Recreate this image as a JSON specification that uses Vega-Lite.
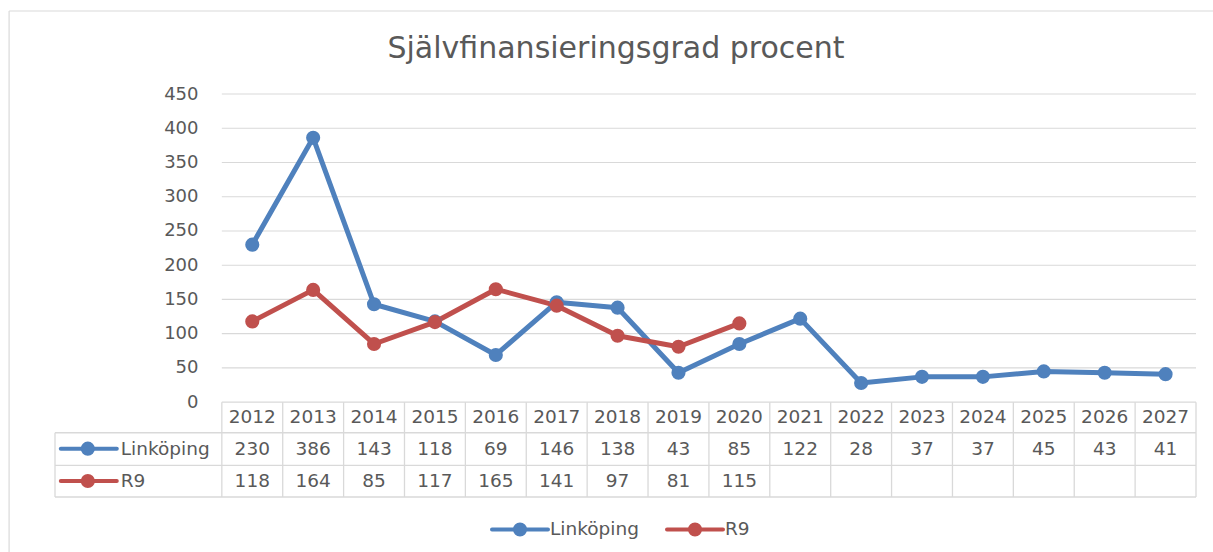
{
  "$schema": "https://vega.github.io/schema/vega-lite/v6.json",
  "width": 1141,
  "height": 403,
  "autosize": {"type": "none"},
  "padding": {"left": 55, "top": 94, "right": 17, "bottom": 55},
  "background": "white",
  "config": {"view": {"stroke": null}, "font": "DejaVu Sans"},
  "title": {"text": "Självfinansieringsgrad procent", "fontSize": 30, "font": "DejaVu Sans", "fontWeight": "normal", "color": "#595959", "anchor": "middle", "frame": "group", "offset": -77.6, "baseline": "alphabetic", "dx": -9.5},
  "datasets": {
    "vals": [
      {"year": 2012, "series": "Linköping", "value": 230},
      {"year": 2013, "series": "Linköping", "value": 386},
      {"year": 2014, "series": "Linköping", "value": 143},
      {"year": 2015, "series": "Linköping", "value": 118},
      {"year": 2016, "series": "Linköping", "value": 69},
      {"year": 2017, "series": "Linköping", "value": 146},
      {"year": 2018, "series": "Linköping", "value": 138},
      {"year": 2019, "series": "Linköping", "value": 43},
      {"year": 2020, "series": "Linköping", "value": 85},
      {"year": 2021, "series": "Linköping", "value": 122},
      {"year": 2022, "series": "Linköping", "value": 28},
      {"year": 2023, "series": "Linköping", "value": 37},
      {"year": 2024, "series": "Linköping", "value": 37},
      {"year": 2025, "series": "Linköping", "value": 45},
      {"year": 2026, "series": "Linköping", "value": 43},
      {"year": 2027, "series": "Linköping", "value": 41},
      {"year": 2012, "series": "R9", "value": 118},
      {"year": 2013, "series": "R9", "value": 164},
      {"year": 2014, "series": "R9", "value": 85},
      {"year": 2015, "series": "R9", "value": 117},
      {"year": 2016, "series": "R9", "value": 165},
      {"year": 2017, "series": "R9", "value": 141},
      {"year": 2018, "series": "R9", "value": 97},
      {"year": 2019, "series": "R9", "value": 81},
      {"year": 2020, "series": "R9", "value": 115}
    ],
    "grid": [{"v": 0}, {"v": 50}, {"v": 100}, {"v": 150}, {"v": 200}, {"v": 250}, {"v": 300}, {"v": 350}, {"v": 400}, {"v": 450}],
    "one": [{}]
  },
  "layer": [
    {
      "data": {"name": "grid"},
      "mark": {"type": "rule", "color": "#D9D9D9", "strokeWidth": 1.2},
      "encoding": {
        "x": {"datum": 2011.5, "type": "quantitative", "scale": {"domain": [2008.76, 2027.5], "nice": false, "zero": false}, "axis": null},
        "x2": {"datum": 2027.5},
        "y": {"field": "v", "type": "quantitative", "scale": {"domain": [-138.4, 450], "nice": false, "zero": false},
          "axis": {"values": [0, 50, 100, 150, 200, 250, 300, 350, 400, 450], "offset": -143, "domain": false, "ticks": false, "tickSize": 0, "labelPadding": 0, "grid": false, "title": null, "labelFont": "DejaVu Sans", "labelFontSize": 18, "labelColor": "#595959"}}
      }
    },
    {
      "data": {"name": "one"},
      "mark": {"type": "rule", "color": "#D9D9D9", "strokeWidth": 1.2},
      "encoding": {
        "x": {"datum": 2008.006, "type": "quantitative", "scale": {"domain": [2008.76, 2027.5], "nice": false, "zero": false}},
        "x2": {"datum": 2029},
        "y": {"datum": 571.2, "type": "quantitative", "scale": {"domain": [-138.4, 450], "nice": false, "zero": false}}
      }
    },
    {
      "data": {"name": "one"},
      "mark": {"type": "rule", "color": "#D9D9D9", "strokeWidth": 1.2},
      "encoding": {
        "x": {"datum": 2008.006, "type": "quantitative", "scale": {"domain": [2008.76, 2027.5], "nice": false, "zero": false}},
        "y": {"datum": 571.2, "type": "quantitative", "scale": {"domain": [-138.4, 450], "nice": false, "zero": false}},
        "y2": {"datum": -240}
      }
    },
    {
      "data": {"name": "vals"},
      "transform": [{"filter": "datum.series === 'Linköping'"}],
      "mark": {"type": "rule", "color": "#D9D9D9", "strokeWidth": 1.3, "xOffset": -30.44},
      "encoding": {
        "x": {"field": "year", "type": "quantitative", "scale": {"domain": [2008.76, 2027.5], "nice": false, "zero": false}},
        "y": {"datum": 0, "type": "quantitative", "scale": {"domain": [-138.4, 450], "nice": false, "zero": false}},
        "y2": {"datum": -138.4}
      }
    },
    {
      "data": {"name": "vals"},
      "transform": [{"filter": "datum.series === 'Linköping' && datum.year === 2027"}],
      "mark": {"type": "rule", "color": "#D9D9D9", "strokeWidth": 1.3, "xOffset": 30.44},
      "encoding": {
        "x": {"field": "year", "type": "quantitative", "scale": {"domain": [2008.76, 2027.5], "nice": false, "zero": false}},
        "y": {"datum": 0, "type": "quantitative", "scale": {"domain": [-138.4, 450], "nice": false, "zero": false}},
        "y2": {"datum": -138.4}
      }
    },
    {
      "data": {"name": "one"},
      "mark": {"type": "rule", "color": "#D9D9D9", "strokeWidth": 1.3},
      "encoding": {
        "x": {"datum": 2008.76, "type": "quantitative", "scale": {"domain": [2008.76, 2027.5], "nice": false, "zero": false}},
        "y": {"datum": -44.6, "type": "quantitative", "scale": {"domain": [-138.4, 450], "nice": false, "zero": false}},
        "y2": {"datum": -138.4}
      }
    },
    {
      "data": {"name": "one"},
      "mark": {"type": "rule", "color": "#D9D9D9", "strokeWidth": 1.3},
      "encoding": {
        "x": {"datum": 2008.76, "type": "quantitative", "scale": {"domain": [2008.76, 2027.5], "nice": false, "zero": false}},
        "x2": {"datum": 2027.5},
        "y": {"datum": -44.6, "type": "quantitative", "scale": {"domain": [-138.4, 450], "nice": false, "zero": false}}
      }
    },
    {
      "data": {"name": "one"},
      "mark": {"type": "rule", "color": "#D9D9D9", "strokeWidth": 1.3},
      "encoding": {
        "x": {"datum": 2008.76, "type": "quantitative", "scale": {"domain": [2008.76, 2027.5], "nice": false, "zero": false}},
        "x2": {"datum": 2027.5},
        "y": {"datum": -92.1, "type": "quantitative", "scale": {"domain": [-138.4, 450], "nice": false, "zero": false}}
      }
    },
    {
      "data": {"name": "one"},
      "mark": {"type": "rule", "color": "#D9D9D9", "strokeWidth": 1.3},
      "encoding": {
        "x": {"datum": 2008.76, "type": "quantitative", "scale": {"domain": [2008.76, 2027.5], "nice": false, "zero": false}},
        "x2": {"datum": 2027.5},
        "y": {"datum": -138.4, "type": "quantitative", "scale": {"domain": [-138.4, 450], "nice": false, "zero": false}}
      }
    },
    {
      "data": {"name": "vals"},
      "mark": {"type": "line", "strokeWidth": 5, "strokeCap": "round", "strokeJoin": "round", "point": {"filled": true, "size": 200, "opacity": 1}},
      "encoding": {
        "x": {"field": "year", "type": "quantitative", "scale": {"domain": [2008.76, 2027.5], "nice": false, "zero": false}},
        "y": {"field": "value", "type": "quantitative", "scale": {"domain": [-138.4, 450], "nice": false, "zero": false}},
        "color": {"field": "series", "type": "nominal",
          "scale": {"domain": ["Linköping", "R9"], "range": ["#4F81BD", "#C0504D"]},
          "legend": {"orient": "none", "legendX": 435, "legendY": 405, "direction": "horizontal", "title": null,
            "symbolType": "M-1,0L1,0M0.18,0A0.18,0.18,0,1,1,-0.18,0A0.18,0.18,0,1,1,0.18,0Z",
            "symbolSize": 3136, "symbolStrokeWidth": 4, "labelFont": "DejaVu Sans", "labelFontSize": 18.5, "labelColor": "#595959",
            "labelOffset": 0, "columnPadding": 20, "padding": 0,
            "encode": {"symbols": {"update": {"fill": {"scale": "color", "field": "value"}, "stroke": {"scale": "color", "field": "value"}, "strokeCap": {"value": "round"}, "opacity": {"value": 1}}}}}
        }
      }
    },
    {
      "data": {"name": "vals"},
      "transform": [{"filter": "datum.series === 'Linköping'"}],
      "mark": {"type": "text", "fontSize": 18.5, "font": "DejaVu Sans", "color": "#595959", "align": "center", "baseline": "middle"},
      "encoding": {
        "x": {"field": "year", "type": "quantitative", "scale": {"domain": [2008.76, 2027.5], "nice": false, "zero": false}},
        "y": {"datum": -21.5, "type": "quantitative", "scale": {"domain": [-138.4, 450], "nice": false, "zero": false}},
        "text": {"field": "year", "type": "nominal"}
      }
    },
    {
      "data": {"name": "vals"},
      "transform": [{"filter": "datum.series === 'Linköping'"}],
      "mark": {"type": "text", "fontSize": 18.5, "font": "DejaVu Sans", "color": "#595959", "align": "center", "baseline": "middle"},
      "encoding": {
        "x": {"field": "year", "type": "quantitative", "scale": {"domain": [2008.76, 2027.5], "nice": false, "zero": false}},
        "y": {"datum": -68.3, "type": "quantitative", "scale": {"domain": [-138.4, 450], "nice": false, "zero": false}},
        "text": {"field": "value", "type": "nominal"}
      }
    },
    {
      "data": {"name": "vals"},
      "transform": [{"filter": "datum.series === 'R9'"}],
      "mark": {"type": "text", "fontSize": 18.5, "font": "DejaVu Sans", "color": "#595959", "align": "center", "baseline": "middle"},
      "encoding": {
        "x": {"field": "year", "type": "quantitative", "scale": {"domain": [2008.76, 2027.5], "nice": false, "zero": false}},
        "y": {"datum": -115, "type": "quantitative", "scale": {"domain": [-138.4, 450], "nice": false, "zero": false}},
        "text": {"field": "value", "type": "nominal"}
      }
    },
    {
      "data": {"name": "vals"},
      "transform": [{"filter": "datum.series === 'Linköping' && datum.year === 2012"}],
      "mark": {"type": "text", "fontSize": 18.5, "font": "DejaVu Sans", "color": "#595959", "align": "left", "baseline": "middle"},
      "encoding": {
        "x": {"datum": 2009.84, "type": "quantitative", "scale": {"domain": [2008.76, 2027.5], "nice": false, "zero": false}},
        "y": {"datum": -68.3, "type": "quantitative", "scale": {"domain": [-138.4, 450], "nice": false, "zero": false}},
        "text": {"field": "series", "type": "nominal"}
      }
    },
    {
      "data": {"name": "vals"},
      "transform": [{"filter": "datum.series === 'R9' && datum.year === 2012"}],
      "mark": {"type": "text", "fontSize": 18.5, "font": "DejaVu Sans", "color": "#595959", "align": "left", "baseline": "middle"},
      "encoding": {
        "x": {"datum": 2009.84, "type": "quantitative", "scale": {"domain": [2008.76, 2027.5], "nice": false, "zero": false}},
        "y": {"datum": -115, "type": "quantitative", "scale": {"domain": [-138.4, 450], "nice": false, "zero": false}},
        "text": {"field": "series", "type": "nominal"}
      }
    },
    {
      "data": {"name": "one"},
      "mark": {"type": "rule", "color": "#4F81BD", "strokeWidth": 4, "strokeCap": "round"},
      "encoding": {
        "x": {"datum": 2008.855, "type": "quantitative", "scale": {"domain": [2008.76, 2027.5], "nice": false, "zero": false}},
        "x2": {"datum": 2009.775},
        "y": {"datum": -67.8, "type": "quantitative", "scale": {"domain": [-138.4, 450], "nice": false, "zero": false}}
      }
    },
    {
      "data": {"name": "one"},
      "mark": {"type": "rule", "color": "#C0504D", "strokeWidth": 4, "strokeCap": "round"},
      "encoding": {
        "x": {"datum": 2008.855, "type": "quantitative", "scale": {"domain": [2008.76, 2027.5], "nice": false, "zero": false}},
        "x2": {"datum": 2009.775},
        "y": {"datum": -115, "type": "quantitative", "scale": {"domain": [-138.4, 450], "nice": false, "zero": false}}
      }
    },
    {
      "data": {"name": "one"},
      "mark": {"type": "point", "filled": true, "opacity": 1, "size": 200, "color": "#4F81BD"},
      "encoding": {
        "x": {"datum": 2009.299, "type": "quantitative", "scale": {"domain": [2008.76, 2027.5], "nice": false, "zero": false}},
        "y": {"datum": -67.8, "type": "quantitative", "scale": {"domain": [-138.4, 450], "nice": false, "zero": false}}
      }
    },
    {
      "data": {"name": "one"},
      "mark": {"type": "point", "filled": true, "opacity": 1, "size": 200, "color": "#C0504D"},
      "encoding": {
        "x": {"datum": 2009.299, "type": "quantitative", "scale": {"domain": [2008.76, 2027.5], "nice": false, "zero": false}},
        "y": {"datum": -115, "type": "quantitative", "scale": {"domain": [-138.4, 450], "nice": false, "zero": false}}
      }
    }
  ]
}
